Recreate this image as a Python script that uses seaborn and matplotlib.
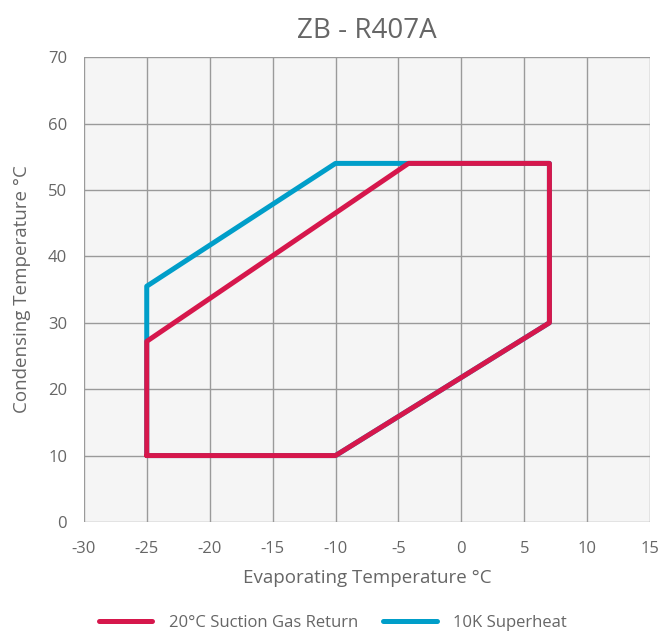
import matplotlib
matplotlib.use("Agg")
import matplotlib.pyplot as plt
import seaborn as sns
import pandas as pd

# envelope corners (evaporating, condensing) in degC
superheat_evap = [-25, -10, 7, 7, -10, -25, -25]
superheat_cond = [10, 10, 30, 54, 54, 35.5, 10]

suction_evap = [-25, -10, 7, 7, -4.2, -25, -25]
suction_cond = [10, 10, 30, 54, 54, 27.2, 10]

x_ticks = list(range(-30, 16, 5))
y_ticks = list(range(0, 71, 10))

red = "#d6174c"
blue = "#009ec9"
grey_text = "#666666"

sns.set_theme(style="white")
plt.rcParams["font.family"] = ["Open Sans", "DejaVu Sans"]
plt.rcParams["axes.unicode_minus"] = False

df_blue = pd.DataFrame({"evap": superheat_evap, "cond": superheat_cond, "step": range(len(superheat_evap))})
df_red = pd.DataFrame({"evap": suction_evap, "cond": suction_cond, "step": range(len(suction_evap))})

fig = plt.figure(figsize=(6.6, 6.35), dpi=100)
ax = fig.add_axes([0.127, 0.178, 0.858, 0.732])
ax.set_facecolor("#f5f5f5")

sns.lineplot(data=df_blue, x="evap", y="cond", sort=False, estimator=None,
             color=blue, linewidth=3.6, ax=ax, label="10K Superheat", zorder=3)
sns.lineplot(data=df_red, x="evap", y="cond", sort=False, estimator=None,
             color=red, linewidth=3.6, ax=ax, label="20°C Suction Gas Return", zorder=4)

ax.set_xlim(-30, 15)
ax.set_ylim(0, 70)
ax.set_xticks(x_ticks)
ax.set_yticks(y_ticks)
ax.grid(True, color="#9a9a9a", linewidth=1.0)
ax.set_axisbelow(True)
for s in ax.spines.values():
    s.set_visible(False)
ax.tick_params(axis="both", which="both", length=8, color="#9a9a9a", width=1.0,
               labelsize=12, labelcolor=grey_text, pad=6)
ax.tick_params(axis="y", pad=4)

ax.set_xlabel("Evaporating Temperature °C", fontsize=13.5, color=grey_text, labelpad=8)
ax.set_ylabel("Condensing Temperature °C", fontsize=13.5, color=grey_text, labelpad=12)
ax.set_title("ZB - R407A", fontsize=20, color=grey_text, pad=14)

handles, labels = ax.get_legend_handles_labels()
ax.legend(handles[::-1], labels[::-1], loc="upper center", bbox_to_anchor=(0.44, -0.168),
          ncol=2, frameon=False, fontsize=12, labelcolor=grey_text,
          handlelength=3.2, columnspacing=1.5, handletextpad=1.0)

fig.savefig("out.png", dpi=100)
